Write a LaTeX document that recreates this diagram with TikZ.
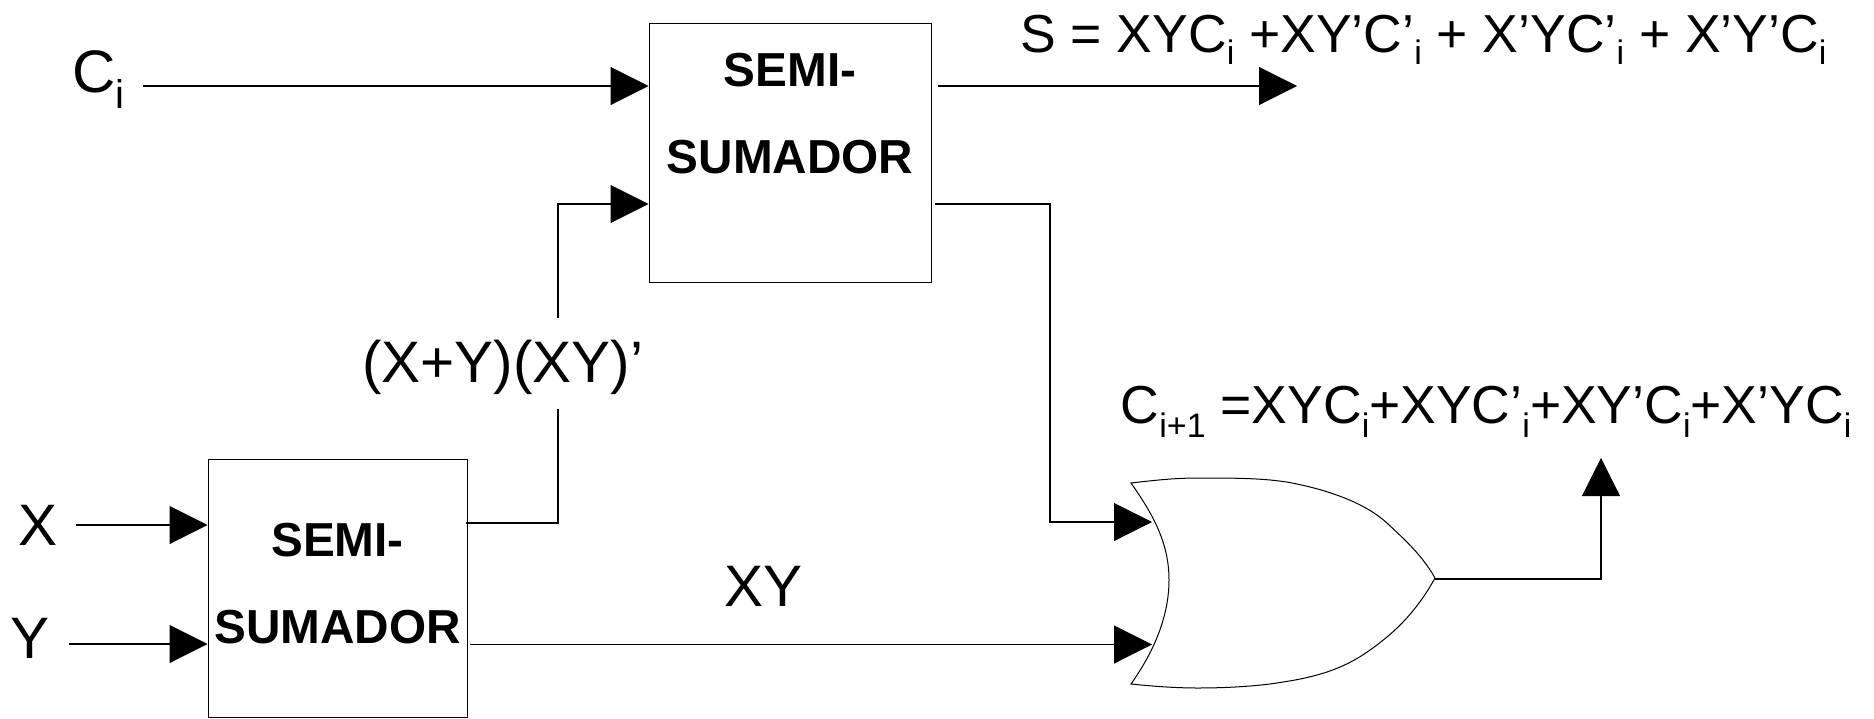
\documentclass[tikz,border=0pt]{standalone}
\usepackage{fontspec}
\setmainfont{Liberation Sans}
\usetikzlibrary{arrows.meta,calc}
\newcommand{\subi}[3][34]{\raisebox{-#2pt}{\fontsize{#1}{#1}\selectfont #3}}
\tikzset{
  x=1pt,y=-1pt,
  block/.style={draw,line width=1pt,inner sep=0pt,minimum width=#1,align=center,font=\fontsize{47.7}{87}\selectfont\bfseries},
  lbl/.style={inner sep=0pt,anchor=base west,font=\fontsize{58.5}{58}\selectfont},
  eqn/.style={inner sep=0pt,anchor=base west,font=\fontsize{53.5}{54}\selectfont},
  conn/.style={line width=1.05pt},
  arrow/.style={conn,-{Triangle[length=38pt,width=38pt]}},
}
\begin{document}
\begin{tikzpicture}
\useasboundingbox (0,0) rectangle (1874,718);
% blocks
\node[block=282pt,text height=150pt,text depth=109pt] (top) at (790,173) [anchor=base] {SEMI-\\[0pt]SUMADOR};
\node[block=259pt,text height=184pt,text depth=74pt] (bot) at (337.5,643) [anchor=base] {SEMI-\\[0pt]SUMADOR};
% labels
\node[lbl,font=\fontsize{60}{60}\selectfont] (ci) at (72,92) {C\subi[40]{16}{i}};
\node[lbl] (x) at (18,545) {X};
\node[lbl] (y) at (10,658) {Y};
\node[eqn] (sum) at (1020,52) {S = XYC\subi{12}{i} +XY’C’\subi{12}{i} + X’YC’\subi{12}{i} + X’Y’C\subi{12}{i}};
\node[eqn] (carry) at (1120.5,423) {C\subi{14}{i+1} =XYC\subi{14}{i}+XYC’\subi{14}{i}+XY’C\subi{14}{i}+X’YC\subi{14}{i}};
\node[lbl] (xplusy) at (362,382.5) {(X+Y)(XY)’};
\node[lbl] (xy) at (724,606) {XY};
% OR gate
\draw[line width=1pt]
  (1131,483) .. controls (1165,479) and (1180,478) .. (1200,478)
  .. controls (1235,478) and (1270,478) .. (1297,484)
  .. controls (1330,491) and (1365,503) .. (1387,523)
  .. controls (1405,540) and (1422,555) .. (1435,578)
  .. controls (1422,602) and (1405,622) .. (1387,637)
  .. controls (1365,655) and (1350,664) .. (1327,672)
  .. controls (1305,679) and (1290,681) .. (1270,684)
  .. controls (1245,687) and (1220,688) .. (1197,688)
  .. controls (1175,688) and (1150,686) .. (1131,684)
  .. controls (1155,650) and (1169,615) .. (1169,580)
  .. controls (1169,545) and (1155,517) .. (1131,483) -- cycle;
\coordinate (orin1) at (1152,522);
\coordinate (orin2) at (1152,644.5);
\coordinate (orout) at (1435,579);
% free ends
\coordinate (ciout) at (143,86);
\coordinate (xout) at (76,525);
\coordinate (yout) at (69,644);
\coordinate (topin1) at (top.west |- ciout);
\coordinate (topin2) at (top.west |- 0,204);
\coordinate (botin1) at (bot.west |- xout);
\coordinate (botin2) at (bot.west |- yout);
\coordinate (sout) at (938,86);
\coordinate (stip) at (1297,86);
\coordinate (cout) at (935,204);
\coordinate (botout1) at (466,523);
\coordinate (botout2) at (470,644.5);
\coordinate (mid1) at (558,409);
\coordinate (mid2) at (558,318);
\coordinate (ctip) at (1601,458);
% connectors
\draw[arrow] (ciout) -- (topin1);
\draw[arrow] (xout) -- (botin1);
\draw[arrow] (yout) -- (botin2);
\draw[arrow] (sout) -- (stip);
\draw[arrow] (mid2) |- (topin2);
\draw[conn] (botout1) -| (mid1);
\draw[arrow] (cout) -| (1050,522) -- (orin1);
\draw[arrow] (botout2) -- (orin2);
\draw[arrow] (orout) -| (ctip);
\end{tikzpicture}
\end{document}
